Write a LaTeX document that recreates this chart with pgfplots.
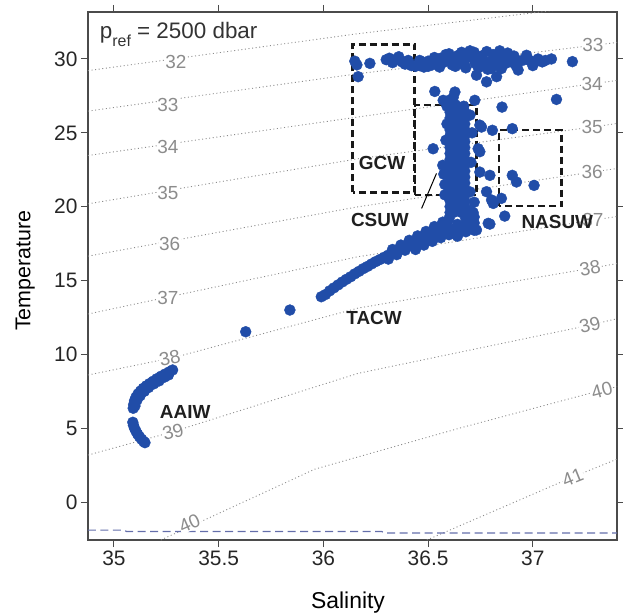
\documentclass[border=0pt]{standalone}
\usepackage{pgfplots}
\pgfplotsset{compat=1.18}
\usepackage{fontspec}
\setmainfont{Liberation Sans}
\definecolor{dotblue}{RGB}{33,77,168}
\definecolor{axgray}{RGB}{75,75,75}
\definecolor{cgray}{RGB}{140,140,140}
\definecolor{frz}{RGB}{100,110,170}
\tikzset{
  cont/.style={cgray, line width=0.9bp, dash pattern=on 1bp off 2.6bp},
  clab/.style={text=cgray, font=\fontsize{19}{19}\selectfont, fill=white, inner sep=0.6bp},
  wbox/.style={black!90, line width=2.8bp, dash pattern=on 7bp off 4bp},
  wlab/.style={font=\bfseries\fontsize{19}{19}\selectfont, text=black!88, inner sep=0pt},
}
\begin{document}
\begin{tikzpicture}
\begin{axis}[
  scale only axis, width=529bp, height=528bp,
  xmin=34.876, xmax=37.402, ymin=-2.57, ymax=33.18,
  xtick={35,35.5,36,36.5,37}, ytick={0,5,10,15,20,25,30},
  tick align=outside, major tick length=7bp,
  tick style={axgray, line width=1bp},
  axis line style={axgray, line width=1.3bp},
  /pgf/number format/assume math mode=true,
  ticklabel style={font=\fontsize{21}{25}\selectfont, text=black!85},
  xlabel={Salinity}, ylabel={Temperature},
  every axis x label/.style={at={(axis description cs:0.4915,-0.1288)}, anchor=base, font=\fontsize{23}{27}\selectfont},
  every axis y label/.style={at={(axis description cs:-0.1089,0.51)}, rotate=90, anchor=base, font=\fontsize{21.5}{26}\selectfont},
  clip=true,
]
% isopycnal (sigma_2) contours
\addplot[cont] coordinates {(34.876,29.21) (36.165,31.71) (37.416,33.82)};
\addplot[cont] coordinates {(34.876,26.47) (36.165,29.00) (37.287,30.92) (37.416,31.14)};
\addplot[cont] coordinates {(34.876,23.46) (36.165,26.07) (37.283,28.32) (37.416,28.57)};
\addplot[cont] coordinates {(34.876,20.19) (36.165,23.24) (37.283,25.39) (37.416,25.66)};
\addplot[cont] coordinates {(34.876,16.65) (36.165,19.99) (37.283,22.34) (37.416,22.61)};
\addplot[cont] coordinates {(34.876,12.73) (36.165,16.61) (37.287,19.09) (37.416,19.36)};
\addplot[cont] coordinates {(34.876,8.60) (35.296,9.82) (36.165,13.13) (37.273,15.82) (37.416,16.18)};
\addplot[cont] coordinates {(34.876,3.18) (35.282,4.76) (36.165,8.71) (37.273,11.98) (37.416,12.46)};
\addplot[cont] coordinates {(35.224,-2.57) (35.96,2.23) (36.652,5.01) (37.33,7.58) (37.416,7.85)};
\addplot[cont] coordinates {(36.494,-2.57) (37.19,1.69) (37.416,2.98)};
% freezing line
\addplot[frz, line width=1.2bp, dash pattern=on 8bp off 4.5bp] coordinates {(34.876,-1.90) (35.05,-1.90) (35.06,-2.00) (36.28,-2.00) (36.29,-2.10) (37.402,-2.10)};
% contour labels
\node[clab] at (axis cs:35.296,29.80) {32};
\node[clab] at (axis cs:35.258,26.86) {33};
\node[clab] at (axis cs:35.258,24.04) {34};
\node[clab] at (axis cs:35.258,20.90) {35};
\node[clab] at (axis cs:35.266,17.50) {36};
\node[clab] at (axis cs:35.258,13.79) {37};
\node[clab, rotate=12] at (axis cs:35.267,9.75) {38};
\node[clab, rotate=15] at (axis cs:35.282,4.76) {39};
\node[clab, rotate=24] at (axis cs:35.361,-1.44) {40};
\node[clab] at (axis cs:37.287,30.94) {33};
\node[clab] at (axis cs:37.283,28.30) {34};
\node[clab] at (axis cs:37.283,25.39) {35};
\node[clab] at (axis cs:37.283,22.34) {36};
\node[clab] at (axis cs:37.287,19.09) {37};
\node[clab, rotate=10] at (axis cs:37.273,15.84) {38};
\node[clab, rotate=13] at (axis cs:37.273,11.98) {39};
\node[clab, rotate=15] at (axis cs:37.330,7.58) {40};
\node[clab, rotate=22] at (axis cs:37.190,1.69) {41};
% observations
\addplot[only marks, mark=*, mark size=5.5pt, mark options={draw=dotblue, fill=dotblue}] table {
S T
35.092 6.35
35.094 6.60
35.098 6.85
35.105 7.10
35.115 7.32
35.127 7.52
35.140 7.70
35.155 7.87
35.170 8.02
35.187 8.18
35.205 8.35
35.225 8.52
35.245 8.67
35.265 8.82
35.280 8.94
35.100 6.50
35.110 6.90
35.125 7.20
35.145 7.50
35.165 7.75
35.190 8.00
35.215 8.20
35.240 8.45
35.260 8.60
35.090 5.40
35.093 5.20
35.098 5.00
35.105 4.80
35.113 4.60
35.122 4.42
35.132 4.25
35.142 4.10
35.148 4.02
35.629 11.53
35.840 13.00
35.990 13.90
36.030 14.30
36.070 14.70
36.110 15.08
36.150 15.45
36.190 15.80
36.230 16.12
36.270 16.42
36.310 16.72
36.350 17.02
36.390 17.32
36.430 17.62
36.470 17.92
36.510 18.22
36.550 18.55
36.590 18.95
36.010 14.05
36.050 14.50
36.090 14.90
36.130 15.25
36.170 15.62
36.210 15.95
36.250 16.28
36.290 16.57
36.330 16.87
36.370 17.17
36.410 17.47
36.450 17.77
36.490 18.07
36.530 18.38
36.310 16.45
36.350 16.75
36.390 17.05
36.430 17.30
36.470 17.55
36.510 17.85
36.550 18.10
36.330 17.10
36.370 17.40
36.410 17.72
36.450 18.02
36.490 18.32
36.530 18.65
36.570 18.95
36.440 17.10
36.480 17.40
36.520 17.65
36.560 17.90
36.600 18.10
36.640 18.00
36.680 18.30
36.720 18.40
36.600 18.50
36.640 18.40
36.680 18.80
36.720 18.90
36.560 18.40
36.600 19.20
36.640 18.80
36.680 19.20
36.720 19.30
36.620 19.60
36.660 19.60
36.700 19.70
36.605 19.60
36.605 20.00
36.605 20.40
36.605 20.80
36.605 21.20
36.605 21.60
36.605 22.00
36.605 22.40
36.605 22.80
36.605 23.20
36.605 23.60
36.605 24.00
36.605 24.40
36.605 24.80
36.605 25.20
36.605 25.60
36.605 26.00
36.605 26.40
36.640 20.00
36.640 20.40
36.640 20.80
36.640 21.20
36.640 21.60
36.640 22.00
36.640 22.40
36.640 22.80
36.640 23.20
36.640 23.60
36.640 24.00
36.640 24.40
36.640 24.80
36.640 25.20
36.640 25.60
36.640 26.00
36.640 26.40
36.675 20.00
36.675 20.40
36.675 20.80
36.675 21.20
36.675 21.60
36.675 22.00
36.675 22.40
36.675 22.80
36.675 23.20
36.675 23.60
36.675 24.00
36.675 24.40
36.675 24.80
36.675 25.20
36.675 25.60
36.675 26.00
36.675 26.40
36.590 26.80
36.630 26.90
36.670 26.80
36.600 27.20
36.572 27.20
36.723 27.20
36.532 27.80
36.628 27.76
36.620 27.40
36.570 22.80
36.575 22.20
36.580 21.50
36.580 20.80
36.585 24.50
36.590 25.60
36.700 21.00
36.705 23.00
36.710 25.00
36.700 26.20
36.720 20.30
36.715 19.60
36.524 23.92
36.853 26.74
36.755 25.39
36.807 25.17
36.902 25.28
36.739 23.92
36.747 22.34
36.795 22.12
36.902 22.12
36.922 21.67
37.006 21.44
37.113 27.26
36.747 25.52
36.747 23.72
36.779 21.01
36.803 20.45
36.866 19.36
36.795 18.82
36.731 18.42
36.787 18.87
36.850 20.56
36.811 20.22
36.150 29.85
36.160 29.60
36.166 28.80
36.222 29.70
36.300 29.95
36.315 30.05
36.330 29.75
36.345 29.95
36.360 30.15
36.375 29.80
36.390 29.65
36.405 29.90
36.420 29.55
36.440 29.50
36.460 29.55
36.480 29.45
36.500 29.50
36.520 29.60
36.540 29.70
36.555 29.45
36.570 29.75
36.585 30.30
36.600 29.95
36.615 29.60
36.630 30.00
36.645 30.25
36.660 29.85
36.675 29.55
36.690 30.10
36.700 30.55
36.715 30.15
36.725 29.70
36.731 28.90
36.740 29.40
36.755 30.20
36.765 29.85
36.779 28.45
36.785 29.30
36.795 29.80
36.810 30.30
36.827 28.80
36.830 29.55
36.842 30.55
36.855 30.00
36.870 29.70
36.890 30.05
36.905 29.75
36.920 29.55
36.940 29.85
36.960 29.95
36.985 29.90
37.005 29.75
37.025 30.00
37.045 29.80
37.060 29.90
37.089 30.00
37.189 29.82
36.460 29.90
36.500 29.85
36.530 30.10
36.560 30.05
36.600 30.35
36.630 29.50
36.660 30.45
36.680 29.40
36.720 30.45
36.750 29.50
36.780 30.50
36.800 29.35
36.820 30.05
36.850 29.35
36.880 30.40
36.910 30.20
36.930 29.25
36.970 30.25
37.000 29.55
};
% water mass boxes
\addplot[wbox] coordinates {(36.139,20.97) (36.139,30.99) (36.436,30.99) (36.436,20.97) (36.139,20.97)};
\addplot[wbox] coordinates {(36.437,20.79) (36.437,26.88) (36.731,26.88) (36.731,20.79) (36.437,20.79)};
\addplot[wbox] coordinates {(36.839,20.04) (36.839,25.19) (37.137,25.19) (37.137,20.04) (36.839,20.04)};
\addplot[black, line width=1bp] coordinates {(36.469,19.88) (36.540,22.25)};
% labels
\node[wlab] at (axis cs:36.280,22.93) {GCW};
\node[wlab] at (axis cs:36.270,19.09) {CSUW};
\node[wlab] at (axis cs:37.117,18.98) {NASUW};
\node[wlab] at (axis cs:36.242,12.44) {TACW};
\node[wlab] at (axis cs:35.340,6.11) {AAIW};
\node[anchor=base west, inner sep=0pt, text=black!80, font=\fontsize{22.5}{26}\selectfont] at (rel axis cs:0.0221,0.9494) {p\raisebox{-8bp}{\fontsize{16}{16}\selectfont ref} = 2500 dbar};
\coordinate (bl) at (rel axis cs:0,0);
\coordinate (tr) at (rel axis cs:1,1);
\end{axis}
\pgfresetboundingbox
\path[use as bounding box] ([shift={(-88bp,-74bp)}]bl) rectangle ([shift={(6bp,12bp)}]tr);
\end{tikzpicture}
\end{document}
